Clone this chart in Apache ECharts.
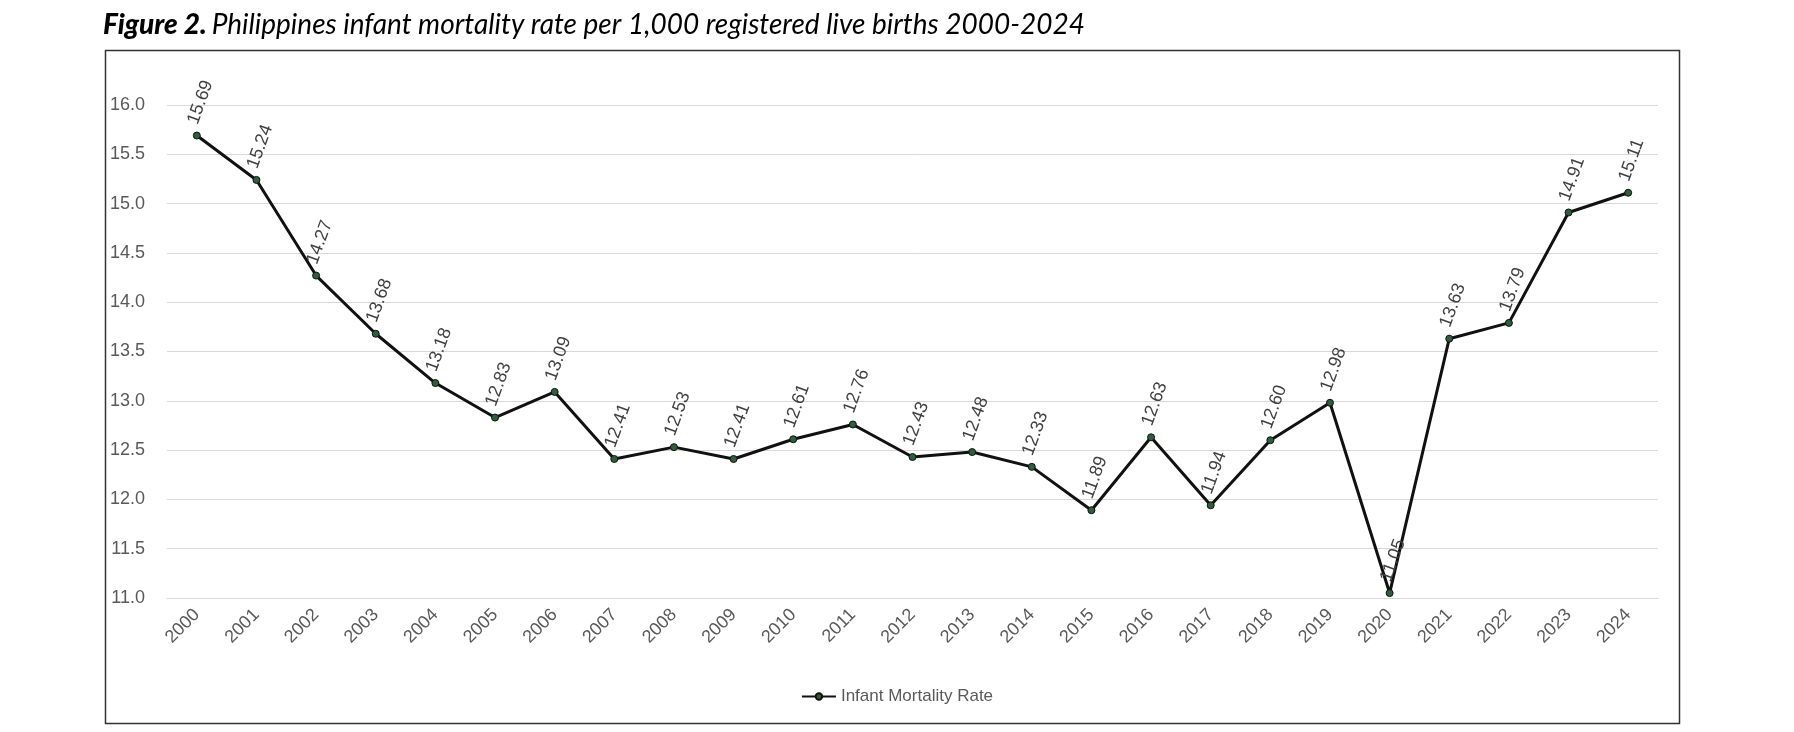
<!DOCTYPE html>
<html><head><meta charset="utf-8">
<script src="https://cdn.jsdelivr.net/npm/echarts@6/dist/echarts.min.js"></script>
<style>html,body{margin:0;background:#fff}#c{width:1794px;height:732px}</style>
</head><body><div id="c"></div>
<script>
var years = ['2000','2001','2002','2003','2004','2005','2006','2007','2008','2009','2010','2011','2012','2013','2014','2015','2016','2017','2018','2019','2020','2021','2022','2023','2024'];
var rates = [15.69,15.24,14.27,13.68,13.18,12.83,13.09,12.41,12.53,12.41,12.61,12.76,12.43,12.48,12.33,11.89,12.63,11.94,12.60,12.98,11.05,13.63,13.79,14.91,15.11];

var chart = echarts.init(document.getElementById('c'));
chart.setOption({
	backgroundColor: '#fff',
	title: {
		text: '{b|Figure 2.} {i|Philippines infant mortality rate per 1,000 registered live births 2000-2024}',
		left: 98, top: 6,
		textStyle: {
			rich: {
				b: { fontFamily: 'Lato', fontWeight: 900, fontStyle: 'italic', fontSize: 28, color: '#000' },
				i: { fontFamily: 'Lato', fontWeight: 'normal', fontStyle: 'italic', fontSize: 28, color: '#000' }
			}
		}
	},
	graphic: [{
		type: 'rect', left: 103, top: 48,
		shape: { width: 1574, height: 673 },
		style: { fill: 'none', stroke: '#333', lineWidth: 1.5 }
	}],
	grid: { left: 167, right: 136, top: 105, bottom: 134 },
	legend: {
		bottom: 22, left: 'center',
		data: ['Infant Mortality Rate'],
		itemWidth: 34, itemHeight: 8,
		textStyle: { color: '#595959', fontSize: 17, fontFamily: 'Liberation Sans' }
	},
	xAxis: {
		type: 'category', data: years, boundaryGap: true,
		axisLine: { lineStyle: { color: '#d9d9d9' } },
		axisTick: { show: false },
		axisLabel: { rotate: 45, color: '#595959', fontSize: 18, fontFamily: 'Liberation Sans', margin: 14 }
	},
	yAxis: {
		type: 'value', min: 11, max: 16, interval: 0.5,
		axisLine: { show: false }, axisTick: { show: false },
		splitLine: { lineStyle: { color: '#d9d9d9' } },
		axisLabel: { color: '#595959', fontSize: 18, fontFamily: 'Liberation Sans', margin: 22,
			formatter: function (v) { return v.toFixed(1); } }
	},
	series: [{
		name: 'Infant Mortality Rate', type: 'line', data: rates,
		symbol: 'circle', symbolSize: 7,
		lineStyle: { color: '#111', width: 3 },
		itemStyle: { color: '#2e5e3a', borderColor: '#111', borderWidth: 1 },
		label: {
			show: true, position: 'inside', rotate: 70,
			align: 'left', verticalAlign: 'middle',
			offset: [10, -8],
			color: '#404040', fontSize: 18, fontFamily: 'Liberation Sans',
			formatter: function (p) { return p.value.toFixed(2); }
		}
	}]
});
</script></body></html>
